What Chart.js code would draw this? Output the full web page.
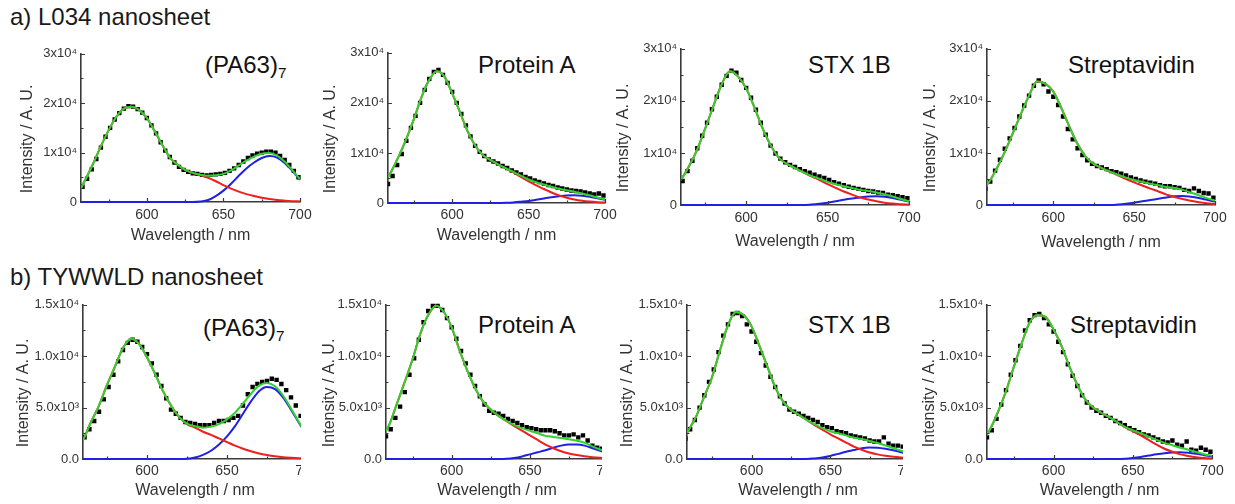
<!DOCTYPE html>
<html>
<head>
<meta charset="utf-8">
<script src="https://cdn.jsdelivr.net/npm/chart.js@4.4.1/dist/chart.umd.min.js"></script>
<style>
  html, body { margin: 0; padding: 0; background: #fff; }
  body { width: 1235px; height: 504px; position: relative; overflow: hidden;
         font-family: "Liberation Sans", Arial, Helvetica, sans-serif; }
  .heading { position: absolute; left: 10px; font-size: 24px; line-height: 1; color: #1a1a1a; white-space: nowrap; }
  .tag { position: absolute; font-size: 24px; line-height: 1; color: #111; white-space: nowrap; }
  .tag sub { font-size: 0.64em; vertical-align: -0.32em; line-height: 0; }
  .panel { position: absolute; overflow: hidden; }
  canvas { display: block; }
</style>
</head>
<body>
<div class="heading" style="top:5px">a) L034 nanosheet</div>
<div class="heading" style="top:265px">b) TYWWLD nanosheet</div>

<div class="tag" style="left:205px;top:53px">(PA63)<sub>7</sub></div>
<div class="tag" style="left:478px;top:53px">Protein A</div>
<div class="tag" style="left:808px;top:53px">STX 1B</div>
<div class="tag" style="left:1068px;top:53px">Streptavidin</div>
<div class="tag" style="left:203px;top:316px">(PA63)<sub>7</sub></div>
<div class="tag" style="left:478px;top:313px">Protein A</div>
<div class="tag" style="left:808px;top:313px">STX 1B</div>
<div class="tag" style="left:1070px;top:313px">Streptavidin</div>

<script>
// Wavelengths (nm) of the measured spectra and of the fitted curves
const wlPoints = [558,561,564,567,570,573,576,579,582,585,
                  588,591,594,597,600,603,606,609,612,615,
                  618,621,624,627,630,633,636,639,642,645,
                  648,651,654,657,660,663,666,669,672,675,
                  678,681,684,687,690,693,696,699];
const wlFit = [557,560,
               565,570,575,580,585,590,595,600,
               605,610,615,620,625,630,635,640,645,650,
               655,660,665,670,675,680,685,690,695,700];

// Axis ticks and their labels
const xTickValues = [575, 600, 625, 650, 675, 700];
const xTickLabels = ['', '600', '', '650', '', '700'];
const yTicksL034 = [0, 5000, 10000, 15000, 20000, 25000, 30000];
const yLabelsL034 = ['0', '', '1x10\u2074', '', '2x10\u2074', '', '3x10\u2074'];
const yTicksTyw = [0, 2500, 5000, 7500, 10000, 12500, 15000];
const yLabelsTyw = ['0.0', '', '5.0x10\u00B3', '', '1.0x10\u2074', '', '1.5x10\u2074'];

// a) L034 nanosheet — (PA63)7
const l034Pa63Points = [3100,4700,6600,8700,11000,13200,15000,16700,18000,18900,
                        19400,19300,18800,18100,17000,15500,13900,12100,10400,9100,
                        8000,7100,6500,6100,5800,5700,5500,5400,5500,5600,
                        5700,5900,6300,6800,7500,8200,8900,9400,9800,10000,
                        10200,10200,10000,9300,8500,7500,6300,5000];
const l034Pa63Peak1 = [2800,4600, 7800,11300,14500,17200,18900,19300,18600,17000,
                       14400,11600,9000,7600,6500,5900,5400,4900,4200,3400,
                       2700,2100,1600,1200,850,600,400,270,170,110];
const l034Pa63Peak2 = [0,0, 0,0,0,0,0,0,0,0,
                       0,0,0,0,0,0,100,400,1200,2300,
                       3700,5300,6800,8000,8900,9300,9000,7900,6300,4500];
const l034Pa63Fit = [2800,4600, 7800,11300,14500,17200,18900,19300,18600,17000,
                     14400,11600,9000,7600,6500,5900,5500,5300,5400,5700,
                     6400,7400,8400,9200,9750,9900,9400,8170,6470,4610];

// a) L034 nanosheet — Protein A
const l034ProtAPoints = [3800,5400,7600,9800,12400,15000,17400,20000,22600,24800,
                         26200,26600,25600,24000,22200,20000,17800,15500,13300,11400,
                         10200,9400,8700,8300,7900,7400,7000,6500,6100,5700,
                         5200,4900,4500,4200,3900,3600,3400,3100,2900,2700,
                         2500,2400,2300,2100,1900,1700,1900,1500];
const l034ProtAPeak1 = [4600,6200, 9300,12800,16800,21200,24600,26300,25200,21900,
                        18200,14400,11500,9600,8600,7700,6900,6100,5200,4300,
                        3500,2800,2100,1500,1050,700,450,280,160,80];
const l034ProtAPeak2 = [0,0, 0,0,0,0,0,0,0,0,
                        0,0,0,0,0,0,40,120,250,400,
                        650,900,1150,1350,1500,1550,1450,1250,950,650];
const l034ProtAFit = [4600,6200, 9300,12800,16800,21200,24600,26300,25200,21900,
                      18200,14400,11500,9600,8600,7700,6940,6220,5450,4700,
                      4150,3700,3250,2850,2550,2250,1900,1530,1110,730];

// a) L034 nanosheet — STX 1B
const l034StxPoints = [3300,4600,6500,8500,10900,13300,15800,18400,20800,23100,
                       24800,25800,25400,24000,22500,20600,18300,15800,13500,11400,
                       9900,8900,8200,7700,7300,6900,6500,6200,5800,5500,
                       5200,4800,4400,4100,3800,3500,3300,3100,2900,2700,
                       2600,2400,2300,2000,1900,1700,1500,1300];
const l034StxPeak1 = [3800,4900, 7500,10700,14800,19100,23200,25700,24700,22400,
                      18800,14800,11500,9100,7900,7100,6300,5500,4800,4000,
                      3300,2600,2000,1450,1050,700,450,280,150,80];
const l034StxPeak2 = [0,0, 0,0,0,0,0,0,0,0,
                      0,0,0,0,0,0,0,100,250,450,
                      700,1000,1250,1450,1650,1700,1600,1350,1000,650];
const l034StxFit = [3800,4900, 7500,10700,14800,19100,23200,25700,24700,22400,
                    18800,14800,11500,9100,7900,7100,6300,5600,5050,4450,
                    4000,3600,3250,2900,2700,2400,2050,1630,1150,730];

// a) L034 nanosheet — Streptavidin
const l034StrepPoints = [3100,4500,6600,8700,10800,12800,14800,17000,19100,21000,
                         22900,23900,23200,21800,20800,19200,17000,14600,12600,10900,
                         9600,8600,7900,7500,7200,6900,6500,6300,6000,5700,
                         5300,5000,4700,4500,4300,4100,3800,3600,3600,3400,
                         3300,2900,2700,3200,2700,2300,2200,1400];
const l034StrepPeak1 = [3300,4300, 7000,10200,13800,17500,21000,23700,23300,21800,
                        18600,15000,11700,9300,7900,7100,6400,5700,5000,4350,
                        3750,3150,2600,2000,1550,1150,800,520,320,200];
const l034StrepPeak2 = [0,0, 0,0,0,0,0,0,0,0,
                        0,0,0,0,0,0,0,100,250,450,
                        700,950,1200,1450,1700,1750,1600,1350,1000,650];
const l034StrepFit = [3300,4300, 7000,10200,13800,17500,21000,23700,23300,21800,
                      18600,15000,11700,9300,7900,7100,6400,5800,5250,4800,
                      4450,4100,3800,3450,3250,2900,2400,1870,1320,850];

// b) TYWWLD nanosheet — (PA63)7
const tywPa63Points = [1300,2100,2900,3700,4600,5800,7000,8200,9500,10600,
                       11300,11600,11400,10900,10200,9300,8200,7100,5900,4800,
                       4400,4000,3600,3500,3400,3300,3300,3300,3500,3700,
                       3700,3800,4000,4200,5200,6300,7000,7300,7500,7600,
                       7800,7700,7300,6700,6000,5200,4200,3400];
const tywPa63Peak1 = [1200,1830, 3600,5200,7200,9000,10800,11700,11200,9900,
                      8300,6600,5200,4100,3400,3050,2650,2350,2000,1650,
                      1300,1000,750,540,390,270,180,120,75,45];
const tywPa63Peak2 = [0,0, 0,0,0,0,0,0,0,0,
                      0,0,0,0,30,150,400,800,1400,2200,
                      3200,4400,5600,6600,7000,6800,6000,4800,3500,2300];
const tywPa63Fit = [1200,1830, 3600,5200,7200,9000,10800,11700,11200,9900,
                    8300,6600,5200,4100,3430,3200,3050,3150,3400,3850,
                    4500,5400,6350,7140,7390,7070,6180,4920,3575,2345];

// b) TYWWLD nanosheet — Protein A
const tywProtAPoints = [2200,2900,4000,5100,6500,8200,9800,11600,13300,14400,
                        14900,14900,14500,13700,12800,11700,10500,9300,8200,7100,
                        6100,5300,4700,4500,4400,4200,3900,3700,3500,3300,
                        3100,3000,2900,2800,2800,2800,2700,2500,2300,2300,
                        2400,2100,2300,1800,1300,1100,1000,900];
const tywProtAPeak1 = [2500,3300, 5400,7500,9700,12200,14000,14900,14300,12800,
                       10600,8600,6900,5600,4800,4200,3700,3200,2750,2300,
                       1850,1400,1050,750,530,380,270,180,120,80];
const tywProtAPeak2 = [0,0, 0,0,0,0,0,0,0,0,
                       0,0,0,0,0,0,20,100,250,450,
                       650,850,1100,1300,1400,1400,1300,1050,800,550];
const tywProtAFit = [2500,3300, 5400,7500,9700,12200,14000,14900,14300,12800,
                     10600,8600,6900,5600,4800,4200,3720,3300,3000,2750,
                     2500,2250,2150,2050,1930,1780,1570,1230,920,630];

// b) TYWWLD nanosheet — STX 1B
const tywStxPoints = [2000,2900,3800,5000,6200,7500,8700,10400,12000,13100,
                      14100,14200,13900,13100,12400,11400,10300,9100,8000,7000,
                      6100,5400,4800,4600,4400,4200,4000,3800,3600,3300,
                      3100,3000,2700,2600,2500,2300,2200,2100,2000,1800,
                      1700,1700,2100,1500,1300,1300,1200,1000];
const tywStxPeak1 = [2000,2800, 4200,6100,8000,10600,13000,14300,14000,12900,
                     11000,9000,7000,5600,4800,4300,3800,3300,2850,2400,
                     2000,1600,1200,900,630,450,320,220,150,100];
const tywStxPeak2 = [0,0, 0,0,0,0,0,0,0,0,
                     0,0,0,0,0,0,0,60,150,300,
                     500,700,870,1050,1120,1100,1000,850,650,450];
const tywStxFit = [2000,2800, 4200,6100,8000,10600,13000,14300,14000,12900,
                   11000,9000,7000,5600,4800,4300,3800,3360,3000,2700,
                   2500,2300,2070,1950,1750,1550,1320,1070,800,550];

// b) TYWWLD nanosheet — Streptavidin
const tywStrepPoints = [2100,2800,3900,5300,6700,8200,9600,11000,12500,13500,
                        14000,14100,13700,13100,12400,11400,10400,9200,8100,7100,
                        6200,5500,5000,4700,4500,4200,4000,3700,3500,3300,
                        3000,2800,2600,2400,2300,2100,1900,1700,1600,1800,
                        1400,1300,1700,900,800,1100,900,700];
const tywStrepPeak1 = [2200,2900, 4600,6600,9000,11300,13300,14000,13800,12600,
                       11000,9000,7200,5800,5000,4500,4100,3600,3100,2700,
                       2300,1850,1400,1000,700,450,300,180,100,60];
const tywStrepPeak2 = [0,0, 0,0,0,0,0,0,0,0,
                       0,0,0,0,0,0,0,0,30,100,
                       200,330,460,570,640,650,600,500,370,250];
const tywStrepFit = [2200,2900, 4600,6600,9000,11300,13300,14000,13800,12600,
                     11000,9000,7200,5800,5000,4500,4100,3600,3130,2800,
                     2500,2180,1860,1570,1340,1100,900,680,470,310];

const FONT = "'Liberation Sans', Arial, Helvetica, sans-serif";
const INK = '#333333';
const AXIS = '#3a3a3a';
const RED = '#ee1f1f';
const BLUE = '#1f1fe6';
const GREEN = '#30d030';

const Y_AXIS_W = 70, PAD_TOP = 10, PAD_RIGHT = 18, X_AXIS_H = 50;

// Plot frame, in page pixels: left/top/right/bottom of each plotting area
const panels = [
  { L: 81,  T: 52,  R: 300,  B: 202, xMin: 557, yMax: 30000, yTicks: yTicksL034, yLabels: yLabelsL034, clipAt: null,
    yTitleX: 28,  xTitleGap: 34, xTickPad: 5,
    pts: l034Pa63Points, p1: l034Pa63Peak1, p2: l034Pa63Peak2, fit: l034Pa63Fit },
  { L: 388, T: 51,  R: 605,  B: 203, xMin: 558, yMax: 30000, yTicks: yTicksL034, yLabels: yLabelsL034, clipAt: null,
    yTitleX: 331, xTitleGap: 33, xTickPad: 4,
    pts: l034ProtAPoints, p1: l034ProtAPeak1, p2: l034ProtAPeak2, fit: l034ProtAFit },
  { L: 681, T: 47,  R: 909,  B: 205, xMin: 560, yMax: 30000, yTicks: yTicksL034, yLabels: yLabelsL034, clipAt: null,
    yTitleX: 624, xTitleGap: 37, xTickPad: 5,
    pts: l034StxPoints, p1: l034StxPeak1, p2: l034StxPeak2, fit: l034StxFit },
  { L: 987, T: 47,  R: 1215, B: 205, xMin: 559, yMax: 30000, yTicks: yTicksL034, yLabels: yLabelsL034, clipAt: null,
    yTitleX: 931, xTitleGap: 38, xTickPad: 5,
    pts: l034StrepPoints, p1: l034StrepPeak1, p2: l034StrepPeak2, fit: l034StrepFit },
  { L: 83,  T: 303, R: 307,  B: 459, xMin: 560, yMax: 15000, yTicks: yTicksTyw, yLabels: yLabelsTyw, clipAt: 301,
    yTitleX: 24,  xTitleGap: 31.5, xTickPad: 3.5,
    pts: tywPa63Points, p1: tywPa63Peak1, p2: tywPa63Peak2, fit: tywPa63Fit },
  { L: 386, T: 303, R: 608,  B: 459, xMin: 558, yMax: 15000, yTicks: yTicksTyw, yLabels: yLabelsTyw, clipAt: 602,
    yTitleX: 330, xTitleGap: 32, xTickPad: 3.5,
    pts: tywProtAPoints, p1: tywProtAPeak1, p2: tywProtAPeak2, fit: tywProtAFit },
  { L: 687, T: 303, R: 909,  B: 459, xMin: 559, yMax: 15000, yTicks: yTicksTyw, yLabels: yLabelsTyw, clipAt: 903,
    yTitleX: 628, xTitleGap: 31.5, xTickPad: 3.5,
    pts: tywStxPoints, p1: tywStxPeak1, p2: tywStxPeak2, fit: tywStxFit },
  { L: 987, T: 303, R: 1212, B: 459, xMin: 558, yMax: 15000, yTicks: yTicksTyw, yLabels: yLabelsTyw, clipAt: null,
    yTitleX: 930, xTitleGap: 31.5, xTickPad: 3.5,
    pts: tywStrepPoints, p1: tywStrepPeak1, p2: tywStrepPeak2, fit: tywStrepFit }
];

// Inward tick marks plus the two axis titles
const frame = {
  id: 'frame',
  afterDatasetsDraw(chart, args, o) {
    const { ctx, chartArea: a, scales: { x, y } } = chart;
    ctx.save();
    ctx.strokeStyle = AXIS;
    ctx.lineWidth = 1.2;
    ctx.beginPath();
    o.xTicks.forEach((v, i) => {
      const px = Math.round(x.getPixelForValue(v)) + 0.5;
      const len = o.xLabels[i] ? 4 : 2.5;
      ctx.moveTo(px, a.bottom);
      ctx.lineTo(px, a.bottom - len);
    });
    o.yTicks.forEach((v, i) => {
      if (v === 0) return;
      const py = Math.round(y.getPixelForValue(v)) + 0.5;
      const len = o.yLabels[i] ? 4 : 2.5;
      ctx.moveTo(a.left, py);
      ctx.lineTo(a.left + len, py);
    });
    ctx.stroke();

    ctx.fillStyle = INK;
    ctx.font = '16px ' + FONT;
    ctx.textAlign = 'center';
    ctx.textBaseline = 'middle';
    ctx.fillText(o.xTitle, (a.left + a.right) / 2, a.bottom + o.xTitleGap);
    ctx.translate(o.yTitleX, (a.top + a.bottom) / 2 + 11);
    ctx.rotate(-Math.PI / 2);
    ctx.fillText(o.yTitle, 0, 0);
    ctx.restore();
  }
};

const toXY = (xs, ys) => ys.map((v, i) => ({ x: xs[i], y: v }));

const curve = (xs, ys, color, order) => ({
  data: toXY(xs, ys),
  borderColor: color,
  borderWidth: 2,
  pointRadius: 0,
  fill: false,
  cubicInterpolationMode: 'monotone',
  clip: { left: 0, top: 4, right: 4, bottom: 4 },
  order
});

panels.forEach(p => {
  const left = p.L - Y_AXIS_W;
  const top = p.T - PAD_TOP;
  const width = p.R - left + PAD_RIGHT;
  const height = p.B - top + X_AXIS_H;

  const box = document.createElement('div');
  box.className = 'panel';
  box.style.left = left + 'px';
  box.style.top = top + 'px';
  box.style.width = (p.clipAt ? p.clipAt - left : width) + 'px';
  box.style.height = height + 'px';
  const cv = document.createElement('canvas');
  cv.width = width;
  cv.height = height;
  cv.style.width = width + 'px';
  cv.style.height = height + 'px';
  box.appendChild(cv);
  document.body.appendChild(box);

  new Chart(cv, {
    type: 'line',
    data: {
      datasets: [
        {
          data: toXY(wlPoints, p.pts),
          showLine: false,
          pointStyle: 'rect',
          pointRadius: 3.1,
          pointBackgroundColor: '#000',
          pointBorderColor: '#000',
          pointBorderWidth: 0,
          clip: { left: 0, top: 4, right: 4, bottom: 4 },
          order: 4
        },
        curve(wlFit, p.p2, BLUE, 3),
        curve(wlFit, p.p1, RED, 2),
        curve(wlFit, p.fit, GREEN, 1)
      ]
    },
    options: {
      responsive: false,
      animation: false,
      devicePixelRatio: 1,
      events: [],
      layout: { padding: { top: PAD_TOP, right: PAD_RIGHT, left: 0, bottom: 0 } },
      plugins: {
        legend: { display: false },
        tooltip: { enabled: false },
        frame: {
          xTicks: xTickValues, xLabels: xTickLabels,
          yTicks: p.yTicks, yLabels: p.yLabels,
          xTitle: 'Wavelength / nm', yTitle: 'Intensity / A. U.',
          xTitleGap: p.xTitleGap, yTitleX: p.yTitleX - left
        }
      },
      scales: {
        x: {
          type: 'linear',
          min: p.xMin,
          max: 700,
          afterFit: s => { s.height = X_AXIS_H; },
          afterBuildTicks: s => { s.ticks = xTickValues.map(v => ({ value: v })); },
          ticks: {
            autoSkip: false, maxRotation: 0, minRotation: 0,
            padding: p.xTickPad, color: INK,
            font: { family: FONT, size: 14 },
            callback: (v, i) => xTickLabels[i]
          },
          grid: { display: false, drawTicks: false },
          border: { display: true, color: AXIS, width: 1.6 }
        },
        y: {
          type: 'linear',
          min: 0,
          max: p.yMax,
          afterFit: s => { s.width = Y_AXIS_W; },
          afterBuildTicks: s => { s.ticks = p.yTicks.map(v => ({ value: v })); },
          ticks: {
            autoSkip: false, padding: 4, color: INK,
            font: { family: FONT, size: 13 },
            callback: (v, i) => p.yLabels[i]
          },
          grid: { display: false, drawTicks: false },
          border: { display: true, color: AXIS, width: 1.6 }
        }
      }
    },
    plugins: [frame]
  });
});
</script>
</body>
</html>
